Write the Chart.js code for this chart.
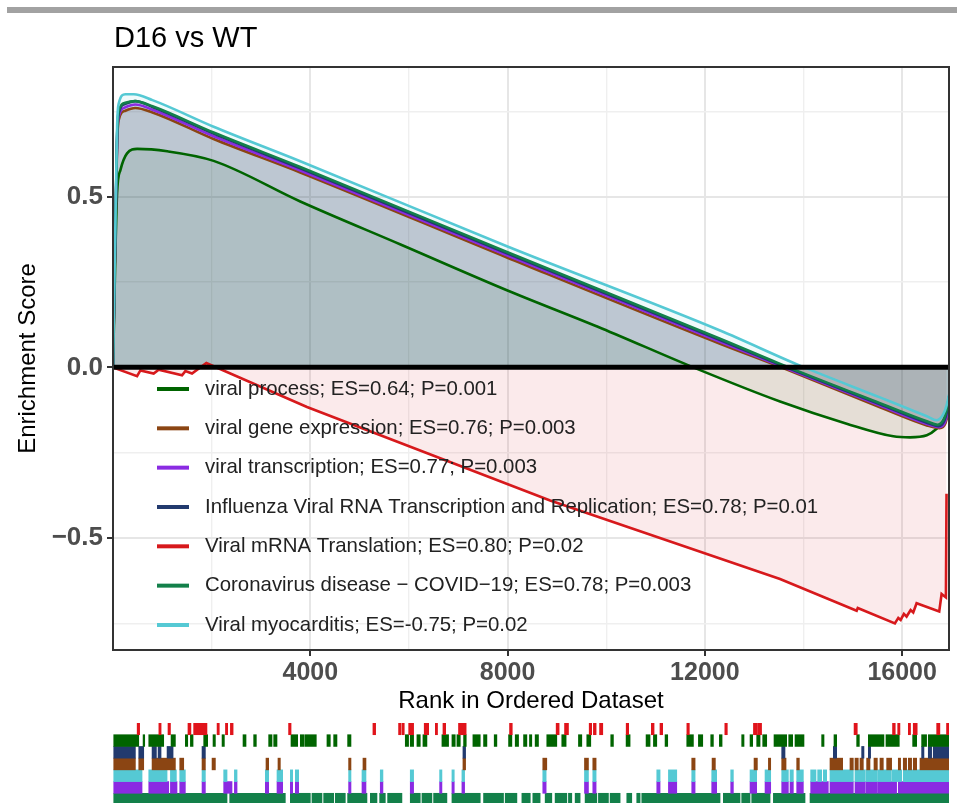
<!DOCTYPE html>
<html>
<head>
<meta charset="utf-8">
<script src="https://cdn.jsdelivr.net/npm/chart.js@4.4.1/dist/chart.umd.min.js"></script>
<style>
  html, body { margin: 0; padding: 0; background: #fff; overflow: hidden; width: 957px; height: 803px; }
  #topbar { position: absolute; left: 7px; top: 7px; width: 950px; height: 6px; background: #a2a2a2; }
  #main { position: absolute; left: 0; top: 0; }
  #rug { position: absolute; left: 0; top: 723px; }
</style>
</head>
<body>
<div id="topbar"></div>
<canvas id="main" width="957" height="716"></canvas>
<canvas id="rug" width="957" height="82"></canvas>
<script>
const FONT = "'Liberation Sans', Arial, Helvetica, sans-serif";

// ---- gene set labels and colours (legend order) ----
const setLabels = [
  'viral process; ES=0.64; P=0.001',
  'viral gene expression; ES=0.76; P=0.003',
  'viral transcription; ES=0.77; P=0.003',
  'Influenza Viral RNA Transcription and Replication; ES=0.78; P=0.01',
  'Viral mRNA Translation; ES=0.80; P=0.02',
  'Coronavirus disease \u2212 COVID\u221219; ES=0.78; P=0.003',
  'Viral myocarditis; ES=-0.75; P=0.02'
];
const setColors = ['#006400', '#8b4513', '#8a2be2', '#223a6e', '#d7191c', '#13804a', '#55c9d4'];
// drawing priority (0 = drawn last, on top)
const setDrawOrder = [5, 4, 3, 2, 6, 1, 0];

// ---- running enrichment score curves: [rank, ES] ----
const viralProcessCurve = [[0,0],[83,0.51],[150,0.578],[285,0.627],[490,0.64],[1100,0.633],[2040,0.605],[3797,0.486],[5830,0.36],[7986,0.226],[9912,0.114],[11767,0.0],[13524,-0.1],[14875,-0.165],[15820,-0.202],[16160,-0.205],[16500,-0.199],[16700,-0.18],[16833,-0.158],[16900,-0.138],[16950,-0.11]];
const geneExpressionCurve = [[0,0],[83,0.655],[116,0.725],[251,0.752],[450,0.76],[800,0.747],[2040,0.669],[3797,0.571],[7986,0.322],[12308,0.069],[13550,0.0],[15550,-0.117],[16500,-0.17],[16760,-0.178],[16880,-0.163],[16925,-0.135],[16950,-0.1]];
const transcriptionCurve = [[0,0],[83,0.665],[116,0.735],[251,0.762],[450,0.77],[800,0.755],[2040,0.677],[3797,0.577],[7986,0.328],[12308,0.075],[13600,0.0],[15550,-0.112],[16500,-0.166],[16750,-0.175],[16870,-0.16],[16920,-0.13],[16950,-0.095]];
const influenzaCurve = [[0,0],[83,0.675],[116,0.745],[251,0.772],[450,0.78],[800,0.763],[2040,0.685],[3797,0.583],[7986,0.334],[12308,0.08],[13650,0.0],[15550,-0.108],[16500,-0.162],[16740,-0.172],[16860,-0.155],[16915,-0.125],[16950,-0.09]];
const mrnaTranslationCurve = [[0,0],[488,-0.026],[555,-0.009],[825,-0.018],[926,-0.007],[1400,-0.023],[1467,-0.011],[1602,-0.018],[1893,0.013],[3933,-0.116],[8863,-0.39],[13524,-0.62],[15078,-0.713],[15100,-0.705],[15853,-0.75],[15922,-0.734],[15970,-0.74],[16036,-0.722],[16090,-0.73],[16172,-0.711],[16225,-0.718],[16293,-0.691],[16752,-0.715],[16800,-0.664],[16887,-0.674],[16900,-0.37]];
const covidCurve = [[0,0],[83,0.68],[116,0.75],[251,0.775],[450,0.78],[800,0.765],[2040,0.688],[3797,0.587],[7986,0.338],[12308,0.084],[13700,0.0],[15550,-0.105],[16500,-0.158],[16720,-0.168],[16850,-0.15],[16910,-0.12],[16950,-0.085]];
const myocarditisCurve = [[0,0],[83,0.705],[116,0.773],[251,0.8],[420,0.8],[800,0.783],[2040,0.705],[3797,0.604],[7986,0.355],[12308,0.108],[13930,0.005],[15550,-0.088],[16500,-0.143],[16700,-0.155],[16833,-0.138],[16900,-0.112],[16950,-0.08]];
const setCurves = [viralProcessCurve, geneExpressionCurve, transcriptionCurve, influenzaCurve, mrnaTranslationCurve, covidCurve, myocarditisCurve];

// ---- axes ----
const rankMax = 16950;
const esMin = -0.828, esMax = 0.88;
const rankTicks = [2000, 4000, 6000, 8000, 10000, 12000, 14000, 16000];
const esTicks = [-0.75, -0.5, -0.25, 0, 0.25, 0.5, 0.75];

// ---- gene hit positions per set: [firstRank, lastRank] ----
const mrnaTranslationHits = [[490,540],[930,975],[1115,1165],[1520,1580],[1635,1905],[2110,2155],[2280,2325],[2380,2435],[3560,3610],[5270,5325],[5790,5840],[5860,5905],[5995,6095],[6310,6400],[6535,6580],[6690,6745],[7005,7160],[8040,8095],[8985,9045],[9155,9235],[9655,9705],[9740,9795],[9865,9930],[10405,10455],[10915,10970],[11090,11145],[11635,11685],[12405,12455],[12985,13065],[13075,13150],[15025,15090],[15805,15860],[15910,15955],[16125,16170],[16225,16305],[16700,16765],[16900,16950]];
const viralProcessHits = [[15,522],[610,643],[725,1028],[1177,1265],[1467,1515],[1569,1623],[1839,1920],[2028,2076],[2211,2258],[2636,2697],[2852,2906],[3156,3224],[3258,3325],[3609,3744],[3798,3879],[3899,4122],[4338,4406],[4474,4541],[4757,4825],[5926,5993],[6027,6095],[6162,6230],[6284,6365],[6669,6804],[6872,6939],[6973,7041],[7108,7162],[7297,7446],[7513,7581],[7729,7783],[8020,8087],[8155,8223],[8324,8391],[8444,8491],[8559,8627],[8795,8998],[9099,9187],[9437,9505],[9606,9687],[10092,10146],[10403,10484],[10808,10889],[10957,11025],[11193,11247],[11633,11768],[11869,11957],[12119,12173],[12294,12349],[12747,12794],[12916,12970],[13051,13119],[13173,13254],[13402,13659],[13700,13781],[13828,14010],[14368,14416],[14618,14672],[15078,15132],[15314,15631],[15672,15942],[16213,16294],[16395,16496],[16530,16950]];
const influenzaHits = [[15,454],[522,623],[792,880],[914,974],[1096,1218],[1805,1873],[7095,7149],[13558,13625],[14605,14672],[15179,15226],[15314,15361],[16395,16442],[16530,16598],[16631,16950]];
const geneExpressionHits = [[15,454],[522,623],[792,1265],[1353,1434],[1805,1873],[2008,2076],[3102,3156],[3345,3393],[4777,4825],[5068,5129],[7095,7149],[8714,8795],[9559,9640],[9728,9795],[11734,11802],[12146,12213],[12997,13065],[13288,13335],[13558,13646],[13862,13916],[14537,14794],[14942,15010],[15044,15111],[15145,15213],[15280,15348],[15429,15497],[15550,15618],[15686,15787],[15922,15969],[16023,16091],[16125,16192],[16226,16294],[16361,16950]];
const myocarditisHits = [[15,589],[725,1096],[1164,1285],[1353,1467],[1805,1873],[2244,2312],[2461,2515],[3089,3156],[3325,3440],[3595,3643],[3697,3764],[4777,4825],[5048,5129],[5419,5473],[6027,6095],[6622,6669],[6872,6919],[7074,7129],[8714,8782],[9559,9640],[9728,9795],[11025,11092],[11261,11430],[11734,11802],[12139,12240],[12524,12578],[12916,13051],[13220,13335],[13558,13693],[13727,13794],[13862,13997],[14145,14253],[14287,14368],[14402,14470],[14537,15010],[15044,15250],[15265,15500],[15515,15780],[15795,15990],[16023,16950]];
const transcriptionHits = [[15,589],[725,1130],[1164,1298],[1353,1467],[1805,1873],[2244,2345],[2359,2413],[2461,2515],[3089,3156],[3325,3440],[3595,3643],[3697,3764],[4777,4825],[5048,5129],[5419,5473],[6027,6095],[6622,6669],[6872,6919],[7074,7129],[8714,8782],[9559,9640],[9728,9795],[11025,11092],[11261,11430],[11734,11802],[12139,12240],[12524,12578],[12916,13051],[13220,13335],[13558,13693],[13727,13794],[13862,13997],[14145,14503],[14537,15010],[15044,15250],[15265,15500],[15515,15730],[15740,15888],[15922,16950]];
const covidHits = [[15,2312],[2366,3494],[3595,4001],[4034,4237],[4271,4474],[4507,4710],[4757,5149],[5217,5352],[5406,5521],[5568,5858],[6027,6230],[6264,6466],[6500,6770],[6872,7446],[7513,7918],[7952,8189],[8290,8460],[8512,8660],[8762,8897],[8964,9201],[9234,9302],[9370,9471],[9572,9809],[9842,10045],[10079,10282],[10417,10518],[10619,10687],[10721,12308],[12375,12713],[12747,12916],[12950,13322],[13389,14031],[14132,16950]];

// rug rows, top to bottom
const rugRows = ['Viral mRNA Translation', 'viral process', 'Influenza', 'viral gene expression', 'Viral myocarditis', 'viral transcription', 'Coronavirus disease'];
const rugHits = [mrnaTranslationHits, viralProcessHits, influenzaHits, geneExpressionHits, myocarditisHits, transcriptionHits, covidHits];
const rugColors = ['#e0141b', '#006400', '#223a6e', '#8b4513', '#55c9d4', '#8a2be2', '#13804a'];

function hexToRgba(hex, a) {
  const n = parseInt(hex.slice(1), 16);
  return `rgba(${(n >> 16) & 255}, ${(n >> 8) & 255}, ${n & 255}, ${a})`;
}

const isMajorRank = v => v % 4000 === 0;
const isMajorES = v => Math.abs(v * 2 - Math.round(v * 2)) < 1e-9;

// zero reference line, panel border, in-panel legend and title
const gseaDecor = {
  id: 'gseaDecor',
  afterDatasetsDraw(chart) {
    const { ctx, chartArea: a, scales: { y } } = chart;
    const y0 = y.getPixelForValue(0);
    ctx.save();
    ctx.strokeStyle = '#000';
    ctx.lineWidth = 5;
    ctx.beginPath();
    ctx.moveTo(a.left, y0);
    ctx.lineTo(a.right, y0);
    ctx.stroke();
    ctx.restore();
  },
  afterDraw(chart) {
    const { ctx, chartArea: a } = chart;
    ctx.save();
    const rowTop = 389, rowStep = 39.33;
    chart.data.datasets.forEach((ds, i) => {
      const yy = rowTop + i * rowStep;
      ctx.strokeStyle = ds.borderColor;
      ctx.lineWidth = 4;
      ctx.beginPath();
      ctx.moveTo(157, yy);
      ctx.lineTo(189, yy);
      ctx.stroke();
      ctx.fillStyle = '#222';
      ctx.font = `20.4px ${FONT}`;
      ctx.textBaseline = 'middle';
      ctx.textAlign = 'left';
      ctx.fillText(ds.label, 205, yy);
    });
    ctx.strokeStyle = '#333';
    ctx.lineWidth = 2;
    ctx.strokeRect(a.left, a.top, a.right - a.left, a.bottom - a.top);
    ctx.fillStyle = '#000';
    ctx.font = `29px ${FONT}`;
    ctx.textBaseline = 'alphabetic';
    ctx.fillText('D16 vs WT', a.left + 1, 47);
    ctx.restore();
  }
};

const datasets = setLabels.map((label, i) => ({
  label,
  data: setCurves[i].map(([x, y]) => ({ x, y })),
  borderColor: setColors[i],
  backgroundColor: hexToRgba(setColors[i], 0.09),
  borderWidth: 2.6,
  fill: 'origin',
  pointRadius: 0,
  order: setDrawOrder[i],
  cubicInterpolationMode: i === 4 ? 'default' : 'monotone',
  tension: 0
}));

new Chart(document.getElementById('main'), {
  type: 'line',
  data: { datasets },
  options: {
    responsive: false,
    animation: false,
    devicePixelRatio: 1,
    layout: { padding: { top: 67, right: 8, bottom: 0, left: 0 } },
    scales: {
      x: {
        type: 'linear',
        min: 0,
        max: rankMax,
        afterBuildTicks: s => { s.ticks = rankTicks.map(v => ({ value: v })); },
        afterFit: s => { s.height = 66; },
        grid: {
          color: c => (c.tick && isMajorRank(c.tick.value)) ? '#e6e6e6' : '#efefef',
          lineWidth: c => (c.tick && isMajorRank(c.tick.value)) ? 2 : 1.4,
          tickColor: c => (c.tick && isMajorRank(c.tick.value)) ? '#333' : 'rgba(0,0,0,0)',
          tickWidth: 2,
          tickLength: 6,
          drawTicks: true
        },
        border: { display: false },
        ticks: {
          autoSkip: false,
          maxRotation: 0,
          padding: 2,
          color: '#4d4d4d',
          font: { family: FONT, size: 25, weight: 'bold' },
          callback: v => isMajorRank(v) ? String(v) : ''
        },
        title: {
          display: true,
          text: 'Rank in Ordered Dataset',
          color: '#000',
          font: { family: FONT, size: 24 },
          padding: { top: 0, bottom: 0 }
        }
      },
      y: {
        type: 'linear',
        min: esMin,
        max: esMax,
        afterBuildTicks: s => { s.ticks = esTicks.map(v => ({ value: v })); },
        afterFit: s => { s.width = 113; },
        grid: {
          color: c => (c.tick && isMajorES(c.tick.value)) ? '#e6e6e6' : '#efefef',
          lineWidth: c => (c.tick && isMajorES(c.tick.value)) ? 2 : 1.4,
          tickColor: c => (c.tick && isMajorES(c.tick.value)) ? '#333' : 'rgba(0,0,0,0)',
          tickWidth: 2,
          tickLength: 6,
          drawTicks: true
        },
        border: { display: false },
        ticks: {
          padding: 4,
          color: '#4d4d4d',
          font: { family: FONT, size: 26, weight: 'bold' },
          callback: v => isMajorES(v) ? (v < -1e-9 ? '\u2212' : '') + Math.abs(v).toFixed(1) : ''
        },
        title: {
          display: true,
          text: 'Enrichment Score',
          color: '#000',
          font: { family: FONT, size: 24 },
          padding: { top: 14, bottom: 0 }
        }
      }
    },
    plugins: {
      legend: { display: false },
      tooltip: { enabled: false },
      filler: { drawTime: 'beforeDatasetsDraw' }
    }
  },
  plugins: [gseaDecor]
});

new Chart(document.getElementById('rug'), {
  type: 'bar',
  data: {
    labels: rugRows,
    datasets: rugRows.map((name, i) => ({
      label: name,
      data: rugHits[i].map(([s, e]) => ({ x: [s, e], y: name })),
      backgroundColor: rugColors[i],
      borderWidth: 0,
      grouped: false,
      barPercentage: 1,
      categoryPercentage: 1
    }))
  },
  options: {
    indexAxis: 'y',
    responsive: false,
    animation: false,
    devicePixelRatio: 1,
    layout: { padding: { top: 0, right: 8, bottom: 0, left: 113 } },
    scales: {
      x: { type: 'linear', min: 0, max: rankMax, display: false },
      y: { type: 'category', display: false, offset: true }
    },
    plugins: { legend: { display: false }, tooltip: { enabled: false } }
  }
});
</script>
</body>
</html>
